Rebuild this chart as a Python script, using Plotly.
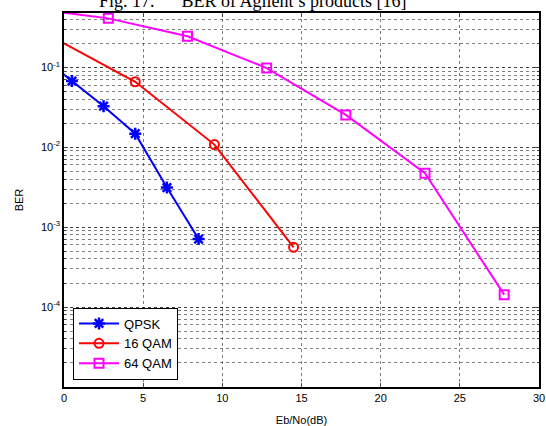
import plotly.graph_objects as go

# Data
qpsk_x = [-1.5, 0.5, 2.5, 4.5, 6.5, 8.5]
qpsk_y = [0.14, 0.0674, 0.0326, 0.0148, 0.00313, 0.00071]

qam16_x = [-0.5, 4.5, 9.5, 14.5]
qam16_y = [0.225, 0.066, 0.0108, 0.00056]

qam64_x = [-2.2, 2.8, 7.8, 12.8, 17.8, 22.8, 27.8]
qam64_y = [0.55, 0.41, 0.245, 0.098, 0.0254, 0.00473, 0.000143]

x_ticks = [0, 5, 10, 15, 20, 25, 30]
y_ticks = [1e-1, 1e-2, 1e-3, 1e-4]
y_ticktext = ["10<sup>-1</sup>", "10<sup>-2</sup>", "10<sup>-3</sup>", "10<sup>-4</sup>"]

font_sans = "Liberation Sans, Arial, sans-serif"

fig = go.Figure()
fig.add_trace(go.Scatter(x=qpsk_x, y=qpsk_y, name="QPSK", mode="lines+markers",
                         line=dict(color="#0000ff", width=2),
                         marker=dict(symbol="asterisk-open", size=10,
                                     line=dict(color="#0000ff", width=2.5))))
fig.add_trace(go.Scatter(x=qam16_x, y=qam16_y, name="16 QAM", mode="lines+markers",
                         line=dict(color="#ff0000", width=2),
                         marker=dict(symbol="circle-open", size=9,
                                     line=dict(color="#ff0000", width=2))))
fig.add_trace(go.Scatter(x=qam64_x, y=qam64_y, name="64 QAM", mode="lines+markers",
                         line=dict(color="#ff00ff", width=2),
                         marker=dict(symbol="square-open", size=9,
                                     line=dict(color="#ff00ff", width=2))))

grid_color = "rgba(0,0,0,0.5)"
fig.update_xaxes(range=[0, 30], tickvals=x_ticks, ticks="inside", ticklen=4,
                 mirror="ticks", showline=True, linecolor="black", linewidth=1.5,
                 showgrid=True, gridcolor=grid_color, griddash="dot", gridwidth=1,
                 zeroline=False, automargin=False,
                 title=dict(text="Eb/No(dB)", font=dict(family=font_sans, size=11, color="black")),
                 tickfont=dict(family=font_sans, size=11, color="black"))
fig.update_yaxes(type="log", range=[-5, -0.32], tickvals=y_ticks, ticktext=y_ticktext,
                 ticks="inside", ticklen=4, mirror="ticks", showline=True,
                 linecolor="black", linewidth=1.5,
                 showgrid=True, gridcolor=grid_color, griddash="dot", gridwidth=1,
                 minor=dict(dtick="D1", showgrid=True, gridcolor=grid_color,
                            griddash="dot", gridwidth=1, ticks="inside", ticklen=2),
                 zeroline=False, automargin=False,
                 title=dict(text="BER", font=dict(family=font_sans, size=11, color="black")),
                 tickfont=dict(family=font_sans, size=11, color="black"))

fig.add_annotation(text="Fig. 17.\u00a0\u00a0\u00a0\u00a0\u00a0 BER of Agilent\u2019s products [16]",
                   xref="paper", yref="paper", x=0.398, y=1, xanchor="center", yanchor="bottom",
                   yshift=0, showarrow=False,
                   font=dict(family="Liberation Serif, Times New Roman, serif", size=18, color="black"))

fig.update_layout(
    width=546, height=426,
    margin=dict(l=64, r=7, t=13, b=39),
    paper_bgcolor="white", plot_bgcolor="white",
    font=dict(family=font_sans, size=11, color="black"),
    legend=dict(x=0.019, y=0.02, xanchor="left", yanchor="bottom",
                bgcolor="white", bordercolor="black", borderwidth=1,
                font=dict(family=font_sans, size=13, color="black"),
                tracegroupgap=0, itemwidth=40),
)

fig.write_html("out.html", config={"displayModeBar": False},
               post_script="document.body.style.margin='0';document.body.style.overflow='hidden';")
